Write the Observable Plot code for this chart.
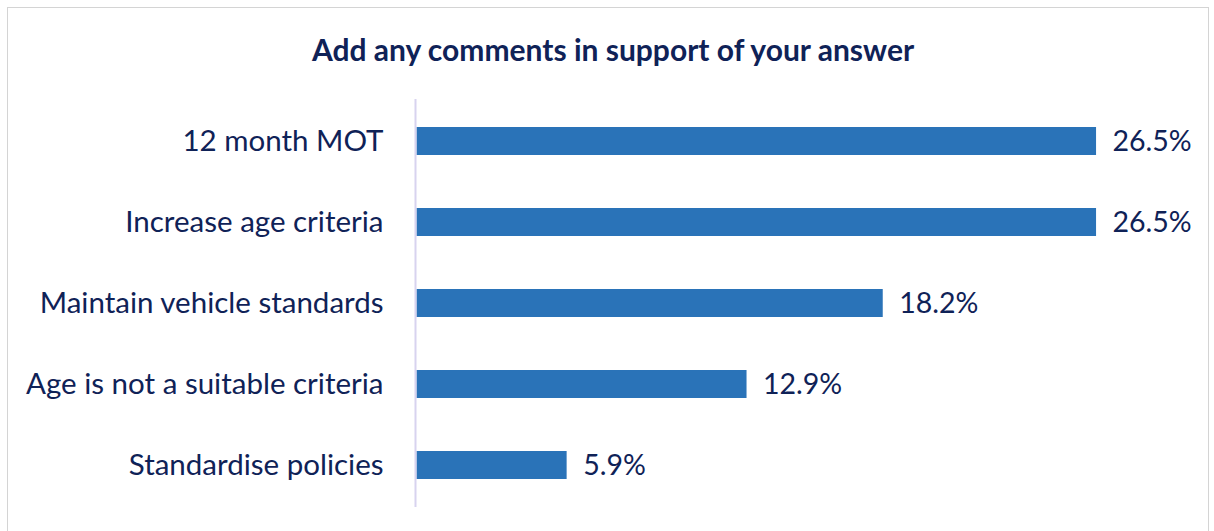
<!DOCTYPE html>
<html>
<head>
<meta charset="utf-8">
<script src="https://cdn.jsdelivr.net/npm/d3@7"></script>
<script src="https://cdn.jsdelivr.net/npm/@observablehq/plot@0.6"></script>
<style>
  html, body { margin: 0; padding: 0; background: #fff; }
  #wrap { position: relative; width: 1214px; height: 531px; overflow: hidden; font-family: Lato, "Open Sans", sans-serif; }
  #frame { position: absolute; left: 7px; top: 7px; width: 1202px; height: 540px; border: 1.5px solid #d4d4d4; box-sizing: border-box; }
  #title { position: absolute; left: 0; width: 1226px; top: 31px; line-height: 36px; text-align: center; font-weight: bold; font-size: 30px; color: #0f2257; }
  #chart { position: absolute; left: 0; top: 0; }
</style>
</head>
<body>
<div id="wrap">
  <div id="frame"></div>
  <div id="title">Add any comments in support of your answer</div>
  <div id="chart"></div>
</div>
<script>
const categories = ["12 month MOT", "Increase age criteria", "Maintain vehicle standards", "Age is not a suitable criteria", "Standardise policies"];
const values = [26.5, 26.5, 18.2, 12.9, 5.9];
const valueLabels = ["26.5%", "26.5%", "18.2%", "12.9%", "5.9%"];

const data = categories.map((c, i) => ({category: c, value: values[i], label: valueLabels[i]}));

const textColor = "#0f2257";
const chart = Plot.plot({
  width: 1214,
  height: 531,
  marginTop: 99,
  marginBottom: 24,
  marginLeft: 415,
  marginRight: 28,
  style: {fontFamily: "Lato, 'Open Sans', sans-serif", background: "transparent", overflow: "visible"},
  x: {domain: [0, 30], axis: null},
  y: {domain: categories, paddingInner: 0.655, paddingOuter: 0.3275, label: null},
  marks: [
    Plot.barX(data, {x: "value", y: "category", fill: "#2a73b8", insetLeft: 1.5}),
    Plot.ruleX([0], {stroke: "#d8d3ef", strokeWidth: 2}),
    Plot.text(data, {x: "value", y: "category", text: "label", textAnchor: "start", dx: 16, fill: textColor, fontSize: 28.5}),
    Plot.axisY({tickSize: 0, tickPadding: 32, fontSize: 29.5, color: textColor, label: null})
  ]
});
document.getElementById("chart").appendChild(chart);
</script>
</body>
</html>
